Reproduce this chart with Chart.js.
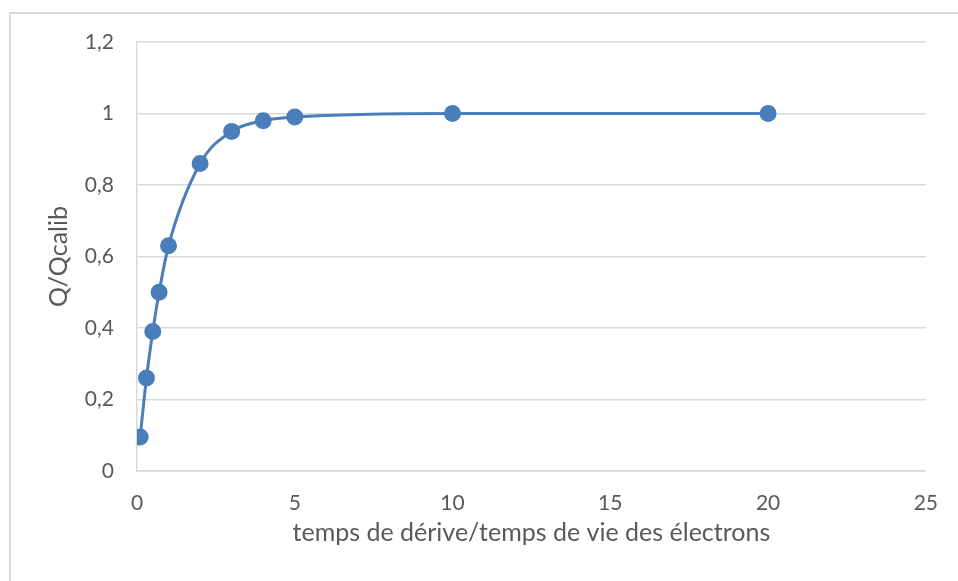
<!DOCTYPE html>
<html>
<head>
<meta charset="utf-8">
<script src="https://cdn.jsdelivr.net/npm/chart.js@4/dist/chart.umd.min.js"></script>
<style>
  html, body { margin: 0; padding: 0; background: #fff; }
  #wrap { width: 958px; height: 581px; }
</style>
</head>
<body>
<div id="wrap"><canvas id="chart" width="958" height="581"></canvas></div>
<script>
// temps de dérive / temps de vie -> Q/Qcalib
const tempsRelatif = [0.1, 0.3, 0.5, 0.7, 1, 2, 3, 4, 5, 10, 20];
const qRelatif = [0.095, 0.26, 0.39, 0.5, 0.63, 0.86, 0.95, 0.98, 0.99, 1.0, 1.0];

// graduations des axes
const xTicks = [0, 5, 10, 15, 20, 25];
const xLabels = ['0', '5', '10', '15', '20', '25'];
const yTicks = [0, 0.2, 0.4, 0.6, 0.8, 1.0, 1.2];
const yLabels = ['0', '0,2', '0,4', '0,6', '0,8', '1', '1,2'];

const points = tempsRelatif.map((t, i) => ({ x: t, y: qRelatif[i] }));

const bleu = '#4a7ebb';
const gris = '#d9d9d9';
const texte = '#595959';
const police = 'Lato, "Open Sans", sans-serif';

// cadre gris autour du graphique
const cadre = {
    id: 'cadre',
    beforeDraw(chart) {
        const c = chart.ctx;
        c.save();
        c.strokeStyle = gris;
        c.lineWidth = 2;
        c.strokeRect(10, 13, 960, 600);
        c.restore();
    }
};

new Chart(document.getElementById('chart').getContext('2d'), {
    type: 'scatter',
    data: {
        datasets: [{
            data: points,
            showLine: true,
            borderColor: bleu,
            backgroundColor: bleu,
            borderWidth: 3,
            pointRadius: 7,
            pointHoverRadius: 7,
            cubicInterpolationMode: 'monotone'
        }]
    },
    options: {
        responsive: false,
        animation: false,
        layout: { padding: { top: 42, right: 30, left: 0, bottom: 0 } },
        plugins: {
            legend: { display: false },
            tooltip: { enabled: false }
        },
        scales: {
            x: {
                type: 'linear',
                min: 0,
                max: 25,
                afterBuildTicks: s => { s.ticks = xTicks.map(v => ({ value: v })); },
                afterFit: s => { s.height = 110; },
                grid: { display: false, drawTicks: false },
                border: { display: true, color: gris, width: 1.5 },
                ticks: {
                    padding: 20,
                    color: texte,
                    font: { family: police, size: 21 },
                    callback: (v, i) => xLabels[i]
                },
                title: {
                    display: true,
                    text: 'temps de dérive/temps de vie des électrons',
                    color: texte,
                    font: { family: police, size: 25 },
                    padding: { top: 0, bottom: 33 }
                }
            },
            y: {
                min: 0,
                max: 1.2,
                afterBuildTicks: s => { s.ticks = yTicks.map(v => ({ value: v })); },
                afterFit: s => { s.width = 137; },
                grid: { color: gris, lineWidth: 1.5, drawTicks: false },
                border: { display: true, color: gris, width: 1.5 },
                ticks: {
                    padding: 23,
                    color: texte,
                    font: { family: police, size: 21 },
                    callback: (v, i) => yLabels[i]
                },
                title: {
                    display: true,
                    text: 'Q/Qcalib',
                    color: texte,
                    font: { family: police, size: 25 },
                    padding: { top: 44, bottom: 0 }
                }
            }
        }
    },
    plugins: [cadre]
});
</script>
</body>
</html>
